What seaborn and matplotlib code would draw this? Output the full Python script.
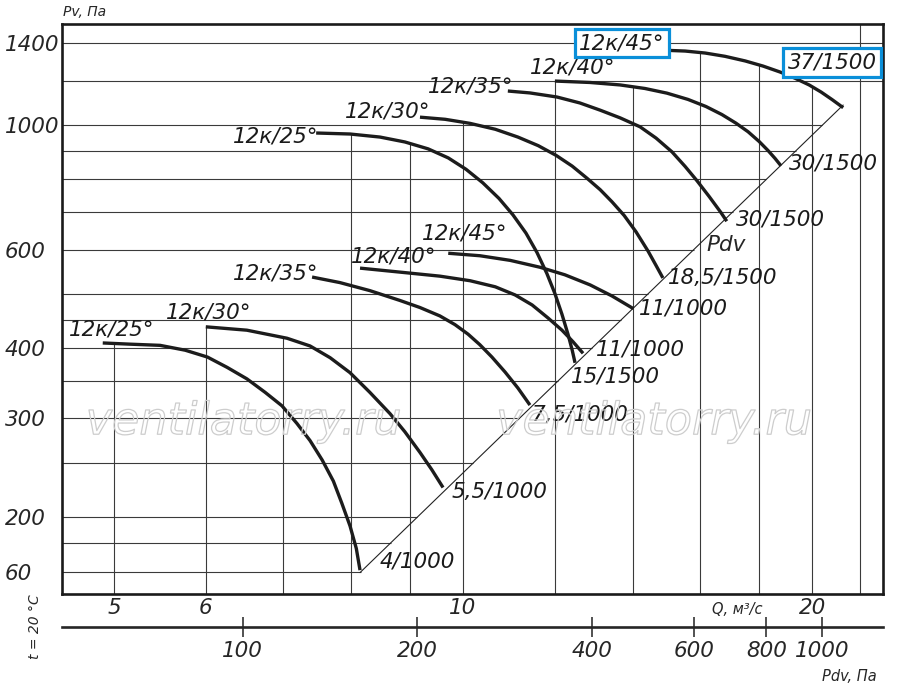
import numpy as np
import pandas as pd
import matplotlib
matplotlib.use('Agg')
import matplotlib.pyplot as plt
import matplotlib.patheffects as pe
from matplotlib.ticker import NullLocator, NullFormatter
import seaborn as sns

# --- values: Q (m3/s) and Pv (Pa) along each curve ---
q_25_1000 = [4.89, 5.16, 5.48, 5.76, 6.02, 6.26, 6.51, 6.75, 6.98, 7.19, 7.38, 7.56, 7.73, 7.86, 7.99, 8.09, 8.15]
p_25_1000 = [409, 407, 405, 397, 386, 370, 353, 334, 316, 294, 274, 253, 232, 212, 193, 176, 161]
q_30_1000 = [6.0, 6.51, 7.05, 7.38, 7.68, 7.99, 8.31, 8.65, 8.91, 9.18, 9.40, 9.61]
p_30_1000 = [437, 431, 417, 404, 385, 362, 334, 306, 284, 261, 243, 226]
q_35_1000 = [7.41, 7.83, 8.31, 8.82, 9.18, 9.55, 9.84, 10.10, 10.34, 10.59, 10.87, 11.15, 11.42]
p_35_1000 = [536, 524, 507, 487, 473, 457, 441, 424, 406, 386, 363, 340, 317]
q_40_1000 = [8.15, 8.82, 9.55, 10.14, 10.66, 11.09, 11.47, 11.84, 12.17, 12.44, 12.69]
p_40_1000 = [556, 547, 538, 528, 515, 498, 478, 453, 431, 411, 392]
q_45_1000 = [9.71, 10.34, 10.98, 11.65, 12.24, 12.87, 13.44, 14.02]
p_45_1000 = [591, 585, 574, 558, 541, 519, 496, 471]

q_25_1500 = [7.47, 7.99, 8.48, 8.91, 9.33, 9.71, 10.06, 10.40, 10.74, 11.04, 11.33, 11.58,
             11.81, 12.00, 12.17, 12.32, 12.42, 12.49]
p_25_1500 = [968, 964, 952, 933, 907, 874, 834, 789, 740, 692, 642, 593,
             544, 501, 460, 423, 397, 377]
q_30_1500 = [9.18, 9.65, 10.14, 10.66, 11.15, 11.61, 12.03, 12.42, 12.79, 13.13, 13.44, 13.77,
             14.10, 14.44, 14.67, 14.87]
p_30_1500 = [1033, 1024, 1007, 983, 952, 919, 883, 845, 804, 767, 730, 690,
             645, 596, 562, 534]
q_35_1500 = [10.93, 11.42, 12.05, 12.61, 13.13, 13.66, 14.21, 14.67, 15.14, 15.54, 15.91, 16.30,
             16.69, 16.88]
p_35_1500 = [1150, 1141, 1122, 1095, 1063, 1030, 993, 948, 896, 844, 796, 746, 698, 674]
q_40_1500 = [12.0, 12.87, 13.66, 14.35, 14.99, 15.63, 16.20, 16.72, 17.19, 17.61, 18.00, 18.32,
             18.58, 18.80]
p_40_1500 = [1198, 1191, 1179, 1162, 1140, 1111, 1079, 1044, 1008, 973, 935, 901, 872, 846]
q_45_1500 = [14.84, 15.54, 16.17, 16.82, 17.51, 18.14, 18.77, 19.33, 19.88, 20.36, 20.81, 21.27]
p_45_1500 = [1360, 1355, 1344, 1326, 1301, 1274, 1243, 1212, 1179, 1145, 1110, 1074]

Q_SERIES = [q_25_1000, q_30_1000, q_35_1000, q_40_1000, q_45_1000,
            q_25_1500, q_30_1500, q_35_1500, q_40_1500, q_45_1500]
P_SERIES = [p_25_1000, p_30_1000, p_35_1000, p_40_1000, p_45_1000,
            p_25_1500, p_30_1500, p_35_1500, p_40_1500, p_45_1500]

ANGLE_LABELS = ['12к/25°', '12к/30°', '12к/35°', '12к/40°', '12к/45°',
                '12к/25°', '12к/30°', '12к/35°', '12к/40°', '12к/45°']
MOTOR_LABELS = ['4/1000', '5,5/1000', '7,5/1000', '11/1000', '11/1000',
                '15/1500', '18,5/1500', '30/1500', '30/1500', '37/1500']

# dynamic pressure line Pdv = K * Q^2 and its axis
K_DV = 2.4
DIAG_Q = [8.15, 21.27]
PDV_TICKS = [100, 200, 400, 600, 800, 1000]

Q_GRID = [5, 6, 7, 8, 9, 10, 12, 14, 16, 18, 20, 22]
P_GRID = [160, 180, 200, 250, 300, 350, 400, 450, 500, 600, 700, 800, 900, 1000, 1200, 1400]
Q_TICKS = [5, 6, 10, 20]
Y_TICKS = [160, 200, 300, 400, 600, 1000, 1400]
Y_TICK_LABELS = ['60', '200', '300', '400', '600', '1000', '1400']

Q_LIM = (4.51, 23.02)
P_LIM = (146, 1514)

# label placement (pixel offsets from curve start / end)
START_OFF = [(9, 13), (3, 14), (-36, 4), (34, 12), (16, 20),
             (-40, -3), (-32, 6), (-37, 5), (18, 14), (-40, 7)]
END_OFF = [(57, 9), (56, -4), (50, -10), (57, 4), (50, 0),
           (40, -14), (60, 0), (54, 2), (52, 2), (-11, 45)]
BOXED_START = [9]
BOXED_END = [9]

sns.set_style('white')
plt.rcParams['font.family'] = ['DejaVu Sans']
plt.rcParams['font.style'] = 'italic'

fig = plt.figure(figsize=(9, 6.88), dpi=100)
ax = fig.add_axes([62 / 900, 94 / 688, 821 / 900, 570 / 688])

frames = []
for i, (q, p) in enumerate(zip(Q_SERIES, P_SERIES)):
    frames.append(pd.DataFrame({'curve': i, 'Q': q, 'P': p}))
df = pd.concat(frames, ignore_index=True)

ax.set_xscale('log')
ax.set_yscale('log')
ax.set_xlim(*Q_LIM)
ax.set_ylim(*P_LIM)

# grid only under the curves and left of the Pdv line
def top_at(q):
    best = None
    for qs, ps in zip(Q_SERIES, P_SERIES):
        if qs[0] - 1e-9 <= q <= qs[-1] + 1e-9:
            v = np.exp(np.interp(np.log(q), np.log(qs), np.log(ps)))
            best = v if best is None else max(best, v)
    return P_LIM[1] if best is None else best

tops = [top_at(q) for q in Q_GRID]
ax.vlines(Q_GRID, P_LIM[0], tops, color='#3a3a3a', lw=0.8, zorder=1)
ends = []
for p in P_GRID:
    qe = np.sqrt(p / K_DV)
    ends.append(qe if qe <= DIAG_Q[1] else Q_LIM[1])
ax.hlines(P_GRID, Q_LIM[0], ends, color='#3a3a3a', lw=0.8, zorder=1)

diag_q = np.array(DIAG_Q)
ax.plot(diag_q, K_DV * diag_q ** 2, color='#222222', lw=0.8, zorder=2)

sns.lineplot(data=df, x='Q', y='P', units='curve', estimator=None, sort=False,
             color='#1c1c1c', linewidth=2.4, ax=ax, zorder=3,
             solid_joinstyle='round', solid_capstyle='butt')

label_kw = dict(fontsize=15.5, ha='center', va='center', textcoords='offset pixels',
                color='#1a1a1a', zorder=5)
box = dict(boxstyle='square,pad=0.2', fc='white', ec='#0a8fd9', lw=2.3)
for i, (q, p) in enumerate(zip(Q_SERIES, P_SERIES)):
    ax.annotate(ANGLE_LABELS[i], (q[0], p[0]), xytext=START_OFF[i],
                bbox=box if i in BOXED_START else None, **label_kw)
    ax.annotate(MOTOR_LABELS[i], (q[-1], p[-1]), xytext=END_OFF[i],
                bbox=box if i in BOXED_END else None, **label_kw)

ax.text(0.809, 0.612, 'Pdv', transform=ax.transAxes, fontsize=15.5,
        ha='center', va='center', zorder=5)

# ticks
ax.set_xticks(Q_TICKS, [str(t) for t in Q_TICKS])
ax.xaxis.set_minor_locator(NullLocator())
ax.xaxis.set_minor_formatter(NullFormatter())
ax.set_yticks(Y_TICKS, Y_TICK_LABELS)
ax.yaxis.set_minor_locator(NullLocator())
ax.yaxis.set_minor_formatter(NullFormatter())
ax.tick_params(axis='x', length=0, labelsize=15.5, pad=3)
ax.tick_params(axis='y', length=0, labelsize=15.5, pad=41)
for lab in ax.get_yticklabels():
    lab.set_horizontalalignment('left')
ax.set_xlabel('')
ax.set_ylabel('')
for s in ax.spines.values():
    s.set_visible(True)
    s.set_linewidth(1.9)
    s.set_color('#1a1a1a')

# Pdv scale under the Q axis
def q_to_pdv(q):
    return K_DV * np.asarray(q, dtype=float) ** 2

def pdv_to_q(p):
    return np.sqrt(np.clip(np.asarray(p, dtype=float), 1e-9, None) / K_DV)

sec = ax.secondary_xaxis(-0.058, functions=(q_to_pdv, pdv_to_q))
sec.set_xticks(PDV_TICKS, [str(t) for t in PDV_TICKS])
sec.xaxis.set_minor_locator(NullLocator())
sec.xaxis.set_minor_formatter(NullFormatter())
sec.tick_params(axis='x', direction='inout', length=14, width=1.1,
                labelsize=15.5, pad=3, color='#222222')
sec.spines['bottom'].set_linewidth(1.9)
sec.spines['top'].set_visible(False)

# axis captions
fig.text(63 / 900, 1 - 12 / 688, 'Pv, Па', fontsize=10, ha='left', va='center')
ax.text(0.822, -0.028, 'Q, м³/с', transform=ax.transAxes, fontsize=10.5,
        ha='center', va='center')
ax.text(0.959, -0.144, 'Pdv, Па', transform=ax.transAxes, fontsize=10.5,
        ha='center', va='center')
fig.text(35 / 900, 1 - 627 / 688, 't = 20 °C', fontsize=10, rotation=90,
         ha='center', va='center')

# watermark
for xw in (0.271, 0.727):
    fig.text(xw, 0.387, 'ventilatorry.ru', fontsize=32, color='none',
             ha='center', va='center', zorder=0,
             path_effects=[pe.withStroke(linewidth=0.9, foreground='#cdcdcd')])

fig.savefig('out.png', dpi=100)
